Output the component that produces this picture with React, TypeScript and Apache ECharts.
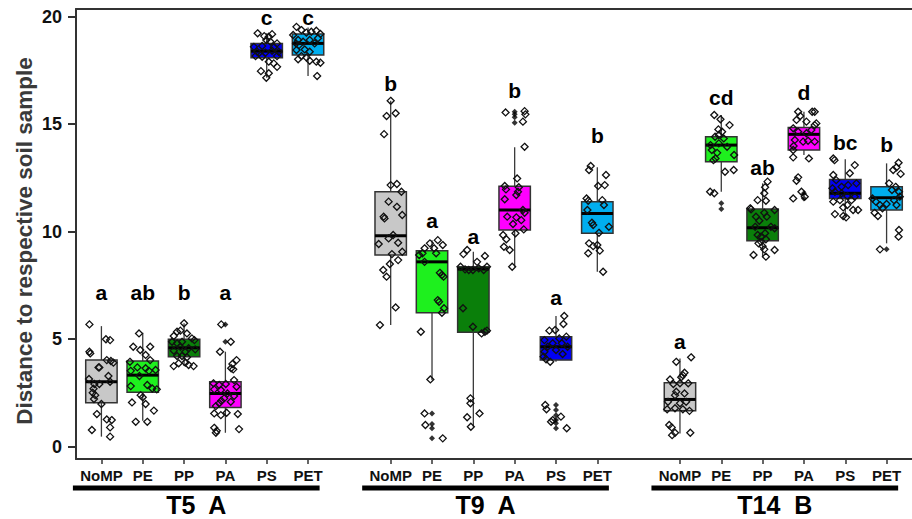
import React, { useEffect, useRef } from 'react';
import * as echarts from 'echarts';

// ---------- data ----------
const categories = ['NoMP', 'PE', 'PP', 'PA', 'PS', 'PET'];
const groups = ['T5', 'T9', 'T14'];
const groupLetters = ['A', 'A', 'B'];
const yTicks = [0, 5, 10, 15, 20];
const yTitle = 'Distance to respective soil sample';

// box stats: [lowerWhisker, q1, median, q3, upperWhisker]
const t5Stats = [
  [0.47, 2.05, 3.02, 4.03, 5.61],
  [1.21, 2.53, 3.33, 3.99, 5.3],
  [3.75, 4.19, 4.6, 5.0, 5.74],
  [0.65, 1.83, 2.48, 3.02, 4.42],
  [17.16, 18.09, 18.4, 18.76, 19.23],
  [17.24, 18.22, 18.76, 19.2, 19.5],
];
const t9Stats = [
  [5.66, 8.92, 9.81, 11.86, 16.09],
  [3.1, 6.23, 8.6, 9.12, 9.6],
  [0.93, 5.32, 8.27, 8.37, 9.07],
  [8.37, 10.08, 11.01, 12.12, 13.93],
  [3.95, 4.03, 4.65, 5.12, 6.08],
  [8.14, 9.93, 10.85, 11.4, 13.0],
];
const t14Stats = [
  [0.62, 1.67, 2.2, 2.98, 4.11],
  [11.86, 13.26, 14.03, 14.42, 15.43],
  [8.84, 9.58, 10.19, 11.06, 12.25],
  [13.57, 13.8, 14.53, 14.85, 15.58],
  [10.7, 11.55, 11.79, 12.43, 13.37],
  [9.46, 11.01, 11.58, 12.09, 13.18],
];

// outliers (filled, at box centre)
const t5Outliers = [[], [], [], [5.69, 4.88], [], []];
const t9Outliers = [[], [1.55, 1.06, 0.86, 0.39], [], [15.58, 15.46, 15.32, 15.07], [1.94, 1.71, 1.47, 1.24, 1.09, 0.86], []];
const t14Outliers = [[], [11.32, 11.06], [], [11.79, 11.55], [], [9.18]];

// jittered points: [x offset from box centre, value]
const t5NoMP = [[-0.29,5.69],[0.11,5.0],[0.21,4.96],[-0.29,4.42],[-0.27,4.34],[0.13,4.03],[0.23,3.99],[0.29,3.91],[-0.07,3.69],[-0.05,3.69],[0.17,3.29],[-0.3,3.15],[0.21,3.02],[-0.05,2.92],[-0.17,2.92],[-0.19,2.7],[-0.21,2.51],[-0.15,2.4],[-0.18,2.22],[0,1.99],[-0.11,1.52],[0.13,1.27],[0.25,1.24],[-0.23,0.78],[0.21,0.9],[0.21,0.47]];
const t5PE = [[-0.09,5.27],[-0.23,4.65],[-0.06,4.5],[0.07,4.27],[0.18,4.65],[-0.31,3.95],[0.18,4.03],[-0.13,3.69],[0.07,3.65],[0.15,3.53],[-0.29,3.53],[0.31,3.57],[-0.08,3.29],[-0.29,2.82],[0.11,2.87],[0.23,2.71],[0.34,2.67],[-0.05,2.4],[0,2.3],[-0.26,2.06],[0.07,1.99],[0.27,1.68],[-0.17,1.16],[0.11,1.16]];
const t5PP = [[0,5.74],[-0.17,5.35],[-0.09,5.4],[0.07,5.27],[-0.25,5.15],[0.19,5.04],[0.25,4.96],[-0.29,4.88],[-0.17,4.81],[-0.05,4.88],[-0.09,4.65],[0.11,4.58],[0.27,4.53],[-0.25,4.47],[0.03,4.42],[-0.05,4.22],[0.07,4.16],[-0.17,4.22],[-0.25,3.75],[-0.13,3.88],[0.03,3.91],[0.11,3.8],[0.23,3.75]];
const t5PA = [[-0.1,5.69],[0.13,4.88],[-0.13,4.42],[0.27,4.03],[0.17,3.85],[0.14,3.65],[0.19,3.6],[0.21,3.1],[-0.29,2.95],[-0.15,2.87],[0.01,2.92],[0.27,2.79],[-0.27,2.67],[-0.11,2.64],[0.05,2.48],[0.21,2.36],[-0.03,2.25],[-0.1,2.14],[-0.15,2.02],[-0.23,1.89],[0.13,2.09],[-0.27,1.55],[-0.11,1.47],[0.03,1.58],[0.3,1.52],[-0.27,0.88],[-0.21,0.74],[-0.23,0.65],[0.33,0.82]];
const t5PS = [[-0.22,19.23],[-0.06,19.1],[0.05,19.07],[0.13,19.19],[-0.01,18.92],[0.09,18.84],[0.25,18.76],[-0.31,18.6],[-0.11,18.64],[0.17,18.58],[-0.23,18.37],[-0.03,18.33],[0.13,18.42],[0.29,18.37],[-0.27,18.17],[-0.11,18.14],[0.25,18.17],[0.05,17.91],[0.17,17.83],[0.25,17.67],[-0.14,17.47],[0.05,17.37],[-0.01,17.16]];
const t5PET = [[-0.28,19.53],[-0.16,19.38],[-0.36,19.15],[-0.04,19.26],[0.08,19.3],[0.2,19.35],[0.3,19.2],[-0.24,18.92],[-0.12,18.84],[0.04,18.92],[0.24,19.0],[-0.29,18.76],[-0.22,18.68],[0.16,18.76],[-0.28,18.45],[-0.08,18.48],[0.04,18.37],[-0.16,18.17],[-0.04,18.11],[-0.24,18.02],[0.04,17.95],[0.2,17.91],[0.3,17.86],[0.22,17.24]];

const t9NoMP = [[0,16.09],[-0.1,15.38],[0.12,15.51],[-0.16,14.54],[0,12.17],[0.15,12.22],[0.26,11.86],[-0.05,11.4],[0.15,11.16],[0.28,10.78],[-0.17,10.7],[-0.15,10.62],[-0.05,9.69],[0.06,9.85],[0.18,9.49],[0.28,9.07],[-0.29,9.43],[0.03,8.96],[-0.02,8.5],[0.18,8.68],[-0.18,8.22],[-0.1,7.91],[0.12,6.48],[-0.26,5.66]];
const t9PE = [[-0.05,9.46],[0.14,9.61],[0.26,9.38],[0.05,9.23],[-0.18,9.23],[-0.31,8.92],[-0.23,9.0],[-0.18,8.6],[0.1,9.0],[0.19,8.09],[0.24,7.99],[0.28,7.91],[0.14,6.82],[0.17,6.74],[0.29,6.44],[0.24,6.23],[-0.27,5.35],[-0.04,3.13],[-0.18,1.55],[-0.16,1.01],[0.26,0.39]];
const t9PP = [[-0.24,8.96],[-0.15,9.15],[0.09,8.6],[0.28,8.87],[-0.31,8.37],[-0.2,8.25],[-0.11,8.22],[-0.01,8.22],[0.13,8.3],[0.25,8.22],[0.33,8.37],[-0.25,6.44],[-0.01,5.58],[0.2,5.27],[0.28,5.35],[0.33,5.4],[-0.07,2.25],[-0.07,2.02],[-0.15,1.37],[0.15,1.55],[-0.06,0.93]];
const t9PA = [[-0.22,15.55],[0.24,15.61],[0.26,15.46],[0.2,15.12],[0.24,13.95],[0.06,12.48],[-0.24,12.13],[-0.21,11.97],[0.1,12.07],[0.08,11.86],[-0.24,11.51],[0.04,11.71],[0.2,11.01],[0.24,10.88],[-0.18,10.7],[0.04,10.67],[0.16,10.54],[-0.04,10.36],[0.22,10.11],[-0.28,9.85],[-0.2,9.65],[0.02,9.93],[-0.26,9.3],[-0.12,9.15],[-0.06,8.37]];
const t9PS = [[0.2,6.08],[0.18,5.71],[-0.16,5.4],[-0.02,5.43],[0.25,5.12],[0.08,5.04],[-0.28,4.96],[-0.08,4.81],[0.14,4.81],[0.28,4.65],[-0.2,4.65],[-0.28,4.42],[0,4.5],[0.16,4.31],[-0.3,4.19],[-0.24,4.07],[-0.14,3.95],[-0.26,1.94],[-0.23,1.74],[-0.12,1.16],[-0.08,1.24],[0.12,1.4],[0.26,0.86]];
const t9PET = [[-0.16,13.06],[-0.2,12.87],[0.02,12.13],[0.18,12.17],[0.21,12.64],[-0.26,11.55],[-0.22,11.44],[0.12,11.47],[0.16,11.24],[-0.24,11.01],[-0.13,10.42],[-0.1,10.31],[0.28,10.23],[0.04,9.95],[-0.2,9.46],[-0.1,9.33],[0,9.38],[0.06,9.12],[-0.22,9.0],[0.14,8.14]];

const t14NoMP = [[0.27,4.16],[-0.09,3.95],[0.11,3.44],[0.07,3.33],[0.03,3.23],[-0.24,3.13],[-0.16,2.92],[0,2.95],[0.2,2.95],[-0.09,2.56],[-0.12,2.4],[0.11,2.48],[-0.29,2.09],[0,2.02],[0.15,2.09],[-0.31,1.74],[-0.12,1.79],[0.07,1.74],[0.23,1.67],[-0.26,1.01],[-0.2,0.9],[-0.19,0.54],[-0.12,0.65],[0.25,0.65]];
const t14PE = [[-0.17,15.43],[-0.02,15.23],[0.2,14.96],[-0.07,14.76],[0.02,14.65],[-0.06,14.5],[-0.15,14.42],[0.06,14.34],[-0.26,14.03],[-0.06,14.11],[0.14,13.95],[0.31,13.57],[-0.23,13.8],[-0.1,13.67],[-0.19,13.33],[-0.14,13.41],[0.09,12.79],[0.3,12.87],[-0.27,11.86],[-0.17,11.79]];
const t14PP = [[0.12,12.33],[0.06,12.07],[0.04,11.79],[-0.12,11.47],[0.08,11.44],[-0.3,11.09],[-0.28,11.04],[0.29,11.01],[0.04,10.88],[-0.16,10.7],[0.1,10.7],[-0.08,10.51],[-0.18,10.23],[0.2,10.23],[0.29,10.16],[-0.12,9.85],[0.06,9.93],[-0.04,9.77],[0.08,9.65],[-0.1,9.46],[0,9.33],[0.04,9.18],[-0.04,9.53],[-0.22,8.92],[0.08,8.84],[0.29,9.15]];
const t14PA = [[-0.14,15.58],[-0.09,15.38],[0.2,15.58],[0.26,15.58],[-0.18,15.2],[0.06,15.12],[0.26,14.96],[0.3,15.04],[-0.26,14.81],[-0.14,14.65],[0.06,14.58],[0.18,14.73],[-0.22,14.27],[-0.02,14.19],[0.1,14.23],[0.26,14.19],[-0.26,13.8],[-0.25,13.99],[-0.26,13.46],[0.12,13.41],[-0.14,12.53],[-0.18,12.37],[-0.06,11.86],[-0.26,11.55],[0.02,11.63]];
const t14PS = [[-0.29,13.41],[-0.26,13.33],[0.23,13.1],[-0.29,12.64],[-0.22,12.4],[0.11,12.72],[-0.09,12.09],[0.07,12.17],[0.27,12.25],[-0.31,12.02],[-0.25,11.86],[-0.09,11.79],[0.05,11.66],[0.23,11.63],[-0.29,11.4],[-0.13,11.47],[0.15,11.47],[0.31,11.01],[-0.05,11.13],[0.05,11.24],[-0.25,10.82],[-0.05,10.73],[0.02,10.67],[0.19,11.01]];
const t14PET = [[0.16,12.87],[0.29,13.21],[0.24,13.0],[0.34,12.69],[0.06,12.25],[0.22,12.09],[0.13,11.94],[0.3,11.86],[0.32,11.63],[-0.34,11.55],[-0.26,11.4],[-0.16,11.24],[0,11.29],[0.18,11.47],[0.24,11.24],[-0.29,10.88],[-0.21,10.73],[-0.1,11.09],[0.3,10.08],[0.29,9.77],[-0.16,9.18]];

const t5Points = [t5NoMP, t5PE, t5PP, t5PA, t5PS, t5PET];
const t9Points = [t9NoMP, t9PE, t9PP, t9PA, t9PS, t9PET];
const t14Points = [t14NoMP, t14PE, t14PP, t14PA, t14PS, t14PET];

// significance letters and their heights
const t5Letters = ['a', 'ab', 'b', 'a', 'c', 'c'];
const t5LetterY = [7.17, 7.17, 7.17, 7.17, 19.96, 19.96];
const t9Letters = ['b', 'a', 'a', 'b', 'a', 'b'];
const t9LetterY = [16.9, 10.5, 9.8, 16.55, 6.93, 14.48];
const t14Letters = ['a', 'cd', 'ab', 'd', 'bc', 'b'];
const t14LetterY = [4.89, 16.24, 12.98, 16.47, 14.14, 14.07];

// ---------- styling ----------
const boxColors = ['#c8c8c8', '#1ef01e', '#0a7f0a', '#ff00ff', '#0000f5', '#00aeef'];
const FONT = '"Liberation Sans", Arial, Helvetica, sans-serif';
const FRAME = '#333333';
const GROUP_STEP = 7;
const BOX_W = 0.76;
const X_MIN = -0.615;
const X_MAX = 19.615;
const Y_MIN = -0.57;
const Y_MAX = 20.36;

const allStats = [t5Stats, t9Stats, t14Stats];
const allOutliers = [t5Outliers, t9Outliers, t14Outliers];
const allPoints = [t5Points, t9Points, t14Points];
const allLetters = [t5Letters, t9Letters, t14Letters];
const allLetterY = [t5LetterY, t9LetterY, t14LetterY];

export default function App() {
  const ref = useRef<HTMLDivElement>(null);
  useEffect(() => {
    if (!ref.current) return;
    const chart = echarts.init(ref.current, null, { renderer: 'svg' });

    const boxData: number[][] = [];
    const pointData: number[][] = [];
    const outlierData: number[][] = [];
    const letterData: number[][] = [];
    const letterText: string[] = [];
    const tickPositions: number[] = [];
    groups.forEach((g, gi) => {
      categories.forEach((c, ci) => {
        const pos = gi * GROUP_STEP + ci;
        tickPositions.push(pos);
        const s = allStats[gi][ci];
        boxData.push([pos, s[0], s[1], s[2], s[3], s[4], ci]);
        allPoints[gi][ci].forEach((p) => pointData.push([pos + p[0], p[1]]));
        allOutliers[gi][ci].forEach((v) => outlierData.push([pos, v]));
        letterData.push([pos, allLetterY[gi][ci]]);
        letterText.push(allLetters[gi][ci]);
      });
    });
    const groupData = groups.map((g, gi) => [gi * GROUP_STEP, gi]);

    const option: any = {
      animation: false,
      backgroundColor: '#ffffff',
      grid: {
        left: 76,
        top: 9,
        width: 845.6,
        height: 450,
      },
      xAxis: [
        {
          type: 'value',
          position: 'bottom',
          min: X_MIN,
          max: X_MAX,
          axisLine: { show: true, onZero: false, lineStyle: { color: FRAME, width: 2 } },
          splitLine: { show: false },
          axisTick: {
            show: true,
            customValues: tickPositions,
            length: 5,
            lineStyle: { color: FRAME, width: 1.5 },
          },
          axisLabel: {
            customValues: tickPositions,
            formatter: (v: number) => categories[Math.round(v) % GROUP_STEP] || '',
            fontFamily: FONT,
            fontWeight: 'bold',
            fontSize: 15,
            color: '#111111',
            margin: 9,
          },
        },
        {
          type: 'value',
          position: 'top',
          min: X_MIN,
          max: X_MAX,
          axisLine: { show: true, onZero: false, lineStyle: { color: FRAME, width: 2 } },
          splitLine: { show: false },
          axisTick: { show: false },
          axisLabel: { show: false },
        },
      ],
      yAxis: {
        type: 'value',
        min: Y_MIN,
        max: Y_MAX,
        axisLine: { show: true, onZero: false, lineStyle: { color: FRAME, width: 2 } },
        splitLine: { show: false },
        axisTick: {
          show: true,
          customValues: yTicks,
          length: 8,
          lineStyle: { color: FRAME, width: 2 },
        },
        axisLabel: {
          customValues: yTicks,
          fontFamily: FONT,
          fontWeight: 'bold',
          fontSize: 18,
          color: '#111111',
          margin: 14,
        },
      },
      graphic: [
        {
          type: 'text',
          x: 24,
          y: 241,
          rotation: Math.PI / 2,
          style: {
            text: yTitle,
            font: 'bold 22.5px ' + FONT,
            fill: '#3a3a3a',
            textAlign: 'center',
            textVerticalAlign: 'middle',
          },
        },
      ],
      series: [
        {
          type: 'custom',
          silent: true,
          data: boxData,
          renderItem: (params: any, api: any) => {
            const x = api.value(0);
            const low = api.coord([x, api.value(1)]);
            const q1 = api.coord([x, api.value(2)]);
            const med = api.coord([x, api.value(3)]);
            const q3 = api.coord([x, api.value(4)]);
            const high = api.coord([x, api.value(5)]);
            const w = api.size([BOX_W, 0])[0];
            const color = boxColors[api.value(6)];
            return {
              type: 'group',
              children: [
                { type: 'line', shape: { x1: low[0], y1: low[1], x2: q1[0], y2: q1[1] }, style: { stroke: '#3a3a3a', lineWidth: 1.3 } },
                { type: 'line', shape: { x1: q3[0], y1: q3[1], x2: high[0], y2: high[1] }, style: { stroke: '#3a3a3a', lineWidth: 1.3 } },
                { type: 'rect', shape: { x: q3[0] - w / 2, y: q3[1], width: w, height: q1[1] - q3[1] }, style: { fill: color, stroke: '#333333', lineWidth: 1.5 } },
                { type: 'line', shape: { x1: med[0] - w / 2, y1: med[1], x2: med[0] + w / 2, y2: med[1] }, style: { stroke: '#000000', lineWidth: 3 } },
              ],
            };
          },
          z: 1,
        },
        {
          type: 'scatter',
          silent: true,
          data: pointData,
          symbol: 'diamond',
          symbolSize: 7,
          itemStyle: { color: 'rgba(0,0,0,0)', borderColor: '#111111', borderWidth: 1.3, opacity: 1 },
          z: 3,
        },
        {
          type: 'scatter',
          silent: true,
          data: outlierData,
          symbol: 'diamond',
          symbolSize: 6,
          itemStyle: { color: '#000000' },
          z: 4,
        },
        {
          type: 'custom',
          silent: true,
          data: letterData,
          renderItem: (params: any, api: any) => {
            const p = api.coord([api.value(0), api.value(1)]);
            return {
              type: 'text',
              style: {
                text: letterText[params.dataIndex],
                x: p[0],
                y: p[1],
                font: 'bold 21px ' + FONT,
                fill: '#000000',
                textAlign: 'center',
                textVerticalAlign: 'middle',
              },
            };
          },
          z: 5,
        },
        {
          type: 'custom',
          silent: true,
          clip: false,
          data: groupData,
          renderItem: (params: any, api: any) => {
            const start = api.value(0);
            const gi = api.value(1);
            const a = api.coord([start - 0.69, Y_MIN]);
            const b = api.coord([start + 5.28, Y_MIN]);
            const cx = (a[0] + b[0]) / 2;
            return {
              type: 'group',
              children: [
                { type: 'line', shape: { x1: a[0], y1: a[1] + 29, x2: b[0], y2: b[1] + 29 }, style: { stroke: '#000000', lineWidth: 5 } },
                {
                  type: 'text',
                  style: {
                    text: groups[gi] + '  ' + groupLetters[gi],
                    x: cx,
                    y: a[1] + 46,
                    font: 'bold 25px ' + FONT,
                    fill: '#000000',
                    textAlign: 'center',
                    textVerticalAlign: 'middle',
                  },
                },
              ],
            };
          },
          z: 5,
        },
      ],
    };
    chart.setOption(option);
    return () => chart.dispose();
  }, []);
  return <div ref={ref} style={{ position: 'absolute', left: 0, top: 0, width: 912, height: 519 }} />;
}
